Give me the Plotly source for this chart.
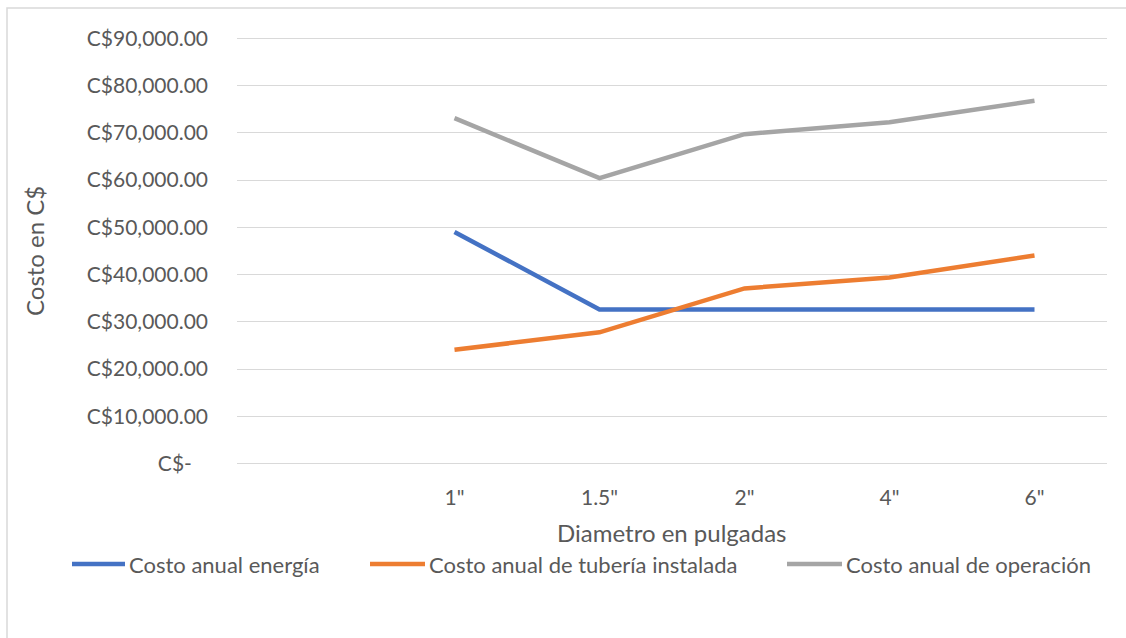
import plotly.graph_objects as go

# Diámetros evaluados y costos anuales (C$)
diametros = ['1"', '1.5"', '2"', '4"', '6"']
costo_energia = [49020, 32640, 32640, 32640, 32640]
costo_tuberia = [24090, 27790, 37080, 39400, 44050]
costo_operacion = [73110, 60430, 69720, 72260, 76800]

nombres = ["Costo anual energía", "Costo anual de tubería instalada", "Costo anual de operación"]
colores = ["#4472C4", "#ED7D31", "#A5A5A5"]

y_ticks = [0, 10000, 20000, 30000, 40000, 50000, 60000, 70000, 80000, 90000]
y_ticktext = ["C$-\u00a0\u00a0\u00a0"] + [f"C${v:,.2f}" for v in y_ticks[1:]]

# Posiciones de categoría (la primera ranura queda vacía)
x_pos = list(range(1, len(diametros) + 1))

FONT = "Lato"
TXT = "#595959"

fig = go.Figure()
for name, vals, color in zip(nombres, [costo_energia, costo_tuberia, costo_operacion], colores):
    fig.add_trace(go.Scatter(
        x=x_pos, y=vals, name=name, mode="lines",
        line=dict(color=color, width=4.5), showlegend=False,
    ))

W, H = 1126, 638
L, R, T, B = 237, 1107, 36, 466
pw, ph = R - L, B - T


def px_x(px):
    return (px - L) / pw


def px_y(py):
    return (B - py) / ph


fig.update_layout(
    width=W, height=H,
    margin=dict(l=L, r=W - R, t=T, b=H - B, pad=0),
    paper_bgcolor="white", plot_bgcolor="white",
    font=dict(family=FONT, color=TXT),
    showlegend=False,
    xaxis=dict(
        range=[-0.5, 5.5],
        tickvals=x_pos, ticktext=diametros,
        showgrid=False, zeroline=False, showline=False,
        ticks="", tickfont=dict(size=21, color=TXT, family=FONT),
        ticklabelstandoff=17,
        fixedrange=True,
    ),
    yaxis=dict(
        range=[-500, 90500],
        tickvals=y_ticks, ticktext=y_ticktext,
        showgrid=True, gridcolor="#D9D9D9", gridwidth=1.2,
        zeroline=False, showline=False, ticks="",
        tickfont=dict(size=21, color=TXT, family=FONT),
        ticklabelstandoff=28,
        fixedrange=True,
    ),
)

# Títulos de los ejes
fig.add_annotation(
    text="Diametro en pulgadas", xref="paper", yref="paper",
    x=px_x(672), y=px_y(532), xanchor="center", yanchor="middle",
    showarrow=False, font=dict(size=24, color=TXT, family=FONT),
)
fig.add_annotation(
    text="Costo en C$", xref="paper", yref="paper",
    x=px_x(34), y=px_y(251), xanchor="center", yanchor="middle",
    textangle=-90, showarrow=False, font=dict(size=24, color=TXT, family=FONT),
)

# Leyenda inferior
leyenda = [(72, 125), (370, 425), (787, 842)]
for (x0, x1), name, color in zip(leyenda, nombres, colores):
    fig.add_shape(
        type="line", xref="paper", yref="paper",
        x0=px_x(x0), x1=px_x(x1), y0=px_y(564), y1=px_y(564),
        line=dict(color=color, width=4.5),
    )
    fig.add_annotation(
        text=name, xref="paper", yref="paper",
        x=px_x(x1 + 2), y=px_y(564), xanchor="left", yanchor="middle",
        showarrow=False, font=dict(size=22, color=TXT, family=FONT),
    )

# Marco del área del gráfico
fig.add_shape(
    type="rect", xref="paper", yref="paper",
    x0=px_x(7), x1=px_x(1160), y0=px_y(700), y1=px_y(8),
    line=dict(color="#D9D9D9", width=1.5), fillcolor="rgba(0,0,0,0)",
    layer="below",
)

fig.write_html("out.html")
